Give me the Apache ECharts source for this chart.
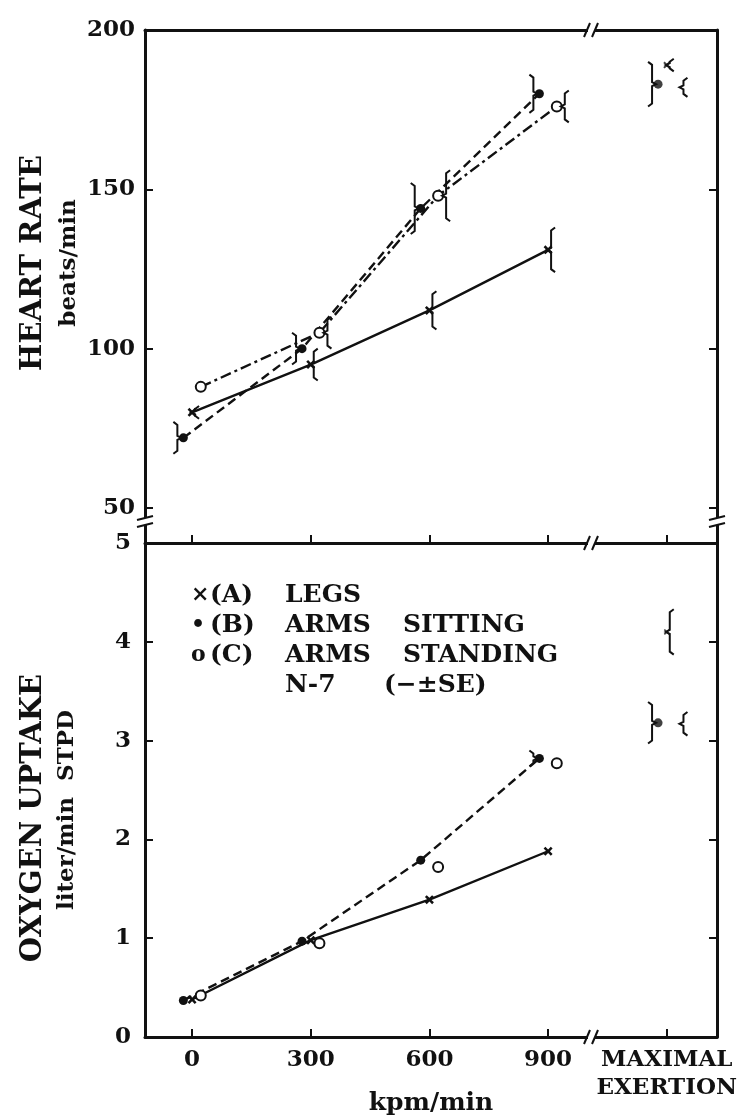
<!DOCTYPE html>
<html>
<head>
<meta charset="utf-8">
<script src="https://cdn.jsdelivr.net/npm/echarts@6.0.0/dist/echarts.min.js"></script>
<style>
  html, body { margin: 0; padding: 0; background: #fff; }
  #chart { width: 750px; height: 1118px; }
</style>
</head>
<body>
<div id="chart"></div>
<script>
// load categories (last one is the maximal exertion column)
var loadLabels = ['0', '300', '600', '900', 'MAXIMAL\nEXERTION'];
var loadValues = [0, 300, 600, 900, 1200];

// heart rate, beats/min
var hrLegs = [80, 95, 112, 131, 189];
var hrSit = [72, 100, 144, 180, 183];
var hrStand = [88, 105, 148, 176, 182];
var hrLegsSE = [2, 5, 6, 7, 2];
var hrSitSE = [5, 5, 8, 6, 7];
var hrStandSE = [0, 5, 8, 5, 3];

// oxygen uptake, liter/min STPD
var voLegs = [0.38, 0.98, 1.39, 1.88, 4.10];
var voSit = [0.37, 0.97, 1.79, 2.82, 3.18];
var voStand = [0.42, 0.95, 1.72, 2.77, 3.17];
var voLegsSE = [0, 0, 0, 0, 0.23];
var voSitSE = [0, 0, 0, 0.08, 0.21];
var voStandSE = [0, 0, 0, 0, 0.12];

var hrTicks = [50, 100, 150, 200];
var voTicks = [0, 1, 2, 3, 4, 5];

// small horizontal shift so the three groups don't sit on top of each other
var SHIFT = { legs: 0, sit: -22, stand: 22 };
var INK = '#111';
var FONT = '"DejaVu Serif", "Liberation Serif", serif';

function linePts(vals, shift) {
  return vals.slice(0, 4).map(function (v, i) { return [loadValues[i] + shift, v]; });
}
function maxPt(vals, shift) {
  return [[loadValues[4] + shift, vals[4]]];
}
function errPts(vals, ses, shift) {
  var out = [];
  vals.forEach(function (v, i) {
    if (ses[i] > 0) out.push([loadValues[i] + shift, v, ses[i]]);
  });
  return out;
}

var crossSym = 'path://M2,0L5,3L8,0L10,2L7,5L10,8L8,10L5,7L2,10L0,8L3,5L0,2Z';

function bracket(side, off) {
  return function (params, api) {
    var x = api.value(0), v = api.value(1), se = api.value(2);
    var top = api.coord([x, v + se]);
    var bot = api.coord([x, v - se]);
    var mid = api.coord([x, v]);
    var bx = mid[0] + side * off, c = 4 * side;
    return {
      type: 'polyline',
      shape: { points: [[bx + c, top[1]], [bx, top[1] + 3], [bx, mid[1] - 2], [bx - c, mid[1]],
                        [bx, mid[1] + 2], [bx, bot[1] - 3], [bx + c, bot[1]]] },
      style: { stroke: INK, lineWidth: 2, fill: null }
    };
  };
}

function lineSeries(g, data, sym, size, lineType, showLine) {
  return {
    type: 'line', xAxisIndex: g === 0 ? 0 : 2, yAxisIndex: g === 0 ? 0 : 2,
    data: data, symbol: sym, symbolSize: size, showSymbol: true,
    lineStyle: { color: INK, width: 2.4, type: lineType, opacity: showLine ? 1 : 0 },
    itemStyle: { color: INK, borderColor: INK, borderWidth: sym === 'emptyCircle' ? 2.2 : 0 },
    z: 3
  };
}
function dotSeries(g, data, sym, size) {
  return {
    type: 'scatter', xAxisIndex: g === 0 ? 0 : 2, yAxisIndex: g === 0 ? 0 : 2,
    data: data, symbol: sym, symbolSize: size,
    itemStyle: { color: sym === 'emptyCircle' ? '#fff' : INK, borderColor: INK, borderWidth: sym === 'emptyCircle' ? 2.2 : 0 },
    z: 4
  };
}
function errSeries(g, data, side, off) {
  return {
    type: 'custom', xAxisIndex: g === 0 ? 0 : 2, yAxisIndex: g === 0 ? 0 : 2,
    data: data, renderItem: bracket(side, off), encode: { x: 0, y: 1 }, z: 5
  };
}

var axisLine = { show: true, onZero: false, lineStyle: { color: INK, width: 3 } };
var tickIn = function (vals) { return { show: true, inside: true, length: 8, lineStyle: { color: INK, width: 2 }, customValues: vals }; };
var labelFont = { color: INK, fontFamily: FONT, fontWeight: 'bold', fontSize: 23 };

var chart = echarts.init(document.getElementById('chart'), null, { renderer: 'canvas' });

// break marks on the axes
var breaks = [];
function yBreak(x, y) {
  breaks.push({ type: 'rect', shape: { x: x - 5, y: y - 3, width: 10, height: 7 }, style: { fill: '#fff' }, z: 100 });
  breaks.push({ type: 'line', shape: { x1: x - 8, y1: y - 1, x2: x + 8, y2: y - 5 }, style: { stroke: INK, lineWidth: 2 }, z: 101 });
  breaks.push({ type: 'line', shape: { x1: x - 8, y1: y + 6, x2: x + 8, y2: y + 2 }, style: { stroke: INK, lineWidth: 2 }, z: 101 });
}
function xBreak(x, y) {
  breaks.push({ type: 'rect', shape: { x: x - 3, y: y - 3, width: 7, height: 6 }, style: { fill: '#fff' }, z: 100 });
  breaks.push({ type: 'line', shape: { x1: x - 7, y1: y + 7, x2: x - 1, y2: y - 7 }, style: { stroke: INK, lineWidth: 2 }, z: 101 });
  breaks.push({ type: 'line', shape: { x1: x + 1, y1: y + 7, x2: x + 7, y2: y - 7 }, style: { stroke: INK, lineWidth: 2 }, z: 101 });
}
yBreak(145, 521);
yBreak(717, 521);
xBreak(591, 30);
xBreak(591, 543);
xBreak(591, 1037);

function vText(txt, x, y, size) {
  return {
    type: 'text', x: x, y: y, rotation: Math.PI / 2, z: 50,
    style: { text: txt, fill: INK, font: 'bold ' + size + 'px ' + FONT, textAlign: 'center', textVerticalAlign: 'middle' }
  };
}
function hText(txt, x, y, size) {
  return {
    type: 'text', x: x, y: y, z: 50,
    style: { text: txt, fill: INK, font: 'bold ' + size + 'px ' + FONT, textAlign: 'left', textVerticalAlign: 'middle' }
  };
}

var legendRows = [
  ['\u00d7', '(A)', 'LEGS', ''],
  ['\u2022', '(B)', 'ARMS', 'SITTING'],
  ['o', '(C)', 'ARMS', 'STANDING'],
  ['', '', 'N-7', '(\u2212\u00b1SE)']
];
var legendGraphics = [];
legendRows.forEach(function (r, i) {
  var y = 595 + i * 30;
  if (r[0]) legendGraphics.push(hText(r[0], 191, y, 22));
  if (r[1]) legendGraphics.push(hText(r[1], 210, y, 25));
  legendGraphics.push(hText(r[2], 285, y, 25));
  if (r[3]) legendGraphics.push(hText(r[3], i === 3 ? 384 : 403, y, 25));
});

chart.setOption({
  animation: false,
  backgroundColor: '#fff',
  grid: [
    { left: 145, right: 33, top: 30, height: 513, outerBoundsMode: 'none', containLabel: false },
    { left: 145, right: 33, top: 543, height: 494, outerBoundsMode: 'none', containLabel: false }
  ],
  xAxis: [
    { gridIndex: 0, type: 'value', min: -119, max: 1327, position: 'bottom',
      axisLine: axisLine, axisTick: tickIn(loadValues), axisLabel: { show: false }, splitLine: { show: false } },
    { gridIndex: 0, type: 'value', min: -119, max: 1327, position: 'top',
      axisLine: axisLine, axisTick: { show: false }, axisLabel: { show: false }, splitLine: { show: false } },
    { gridIndex: 1, type: 'value', min: -119, max: 1327, position: 'bottom',
      axisLine: axisLine, axisTick: tickIn(loadValues),
      axisLabel: Object.assign({}, labelFont, {
        customValues: loadValues, margin: 9, lineHeight: 28,
        formatter: function (v) { return loadLabels[loadValues.indexOf(v)]; }
      }),
      splitLine: { show: false },
      name: 'kpm/min', nameLocation: 'middle', nameGap: 54, nameMoveOverlap: false,
      nameTextStyle: { color: INK, fontFamily: FONT, fontWeight: 'bold', fontSize: 25 } }
  ],
  yAxis: [
    { gridIndex: 0, type: 'value', min: 39, max: 200, position: 'left',
      axisLine: axisLine, axisTick: tickIn(hrTicks),
      axisLabel: Object.assign({}, labelFont, { customValues: hrTicks, margin: 10 }), splitLine: { show: false } },
    { gridIndex: 0, type: 'value', min: 39, max: 200, position: 'right',
      axisLine: axisLine, axisTick: tickIn([50, 100, 150]), axisLabel: { show: false }, splitLine: { show: false } },
    { gridIndex: 1, type: 'value', min: 0, max: 5, position: 'left',
      axisLine: axisLine, axisTick: tickIn(voTicks),
      axisLabel: Object.assign({}, labelFont, { customValues: voTicks, margin: 14 }), splitLine: { show: false } },
    { gridIndex: 1, type: 'value', min: 0, max: 5, position: 'right',
      axisLine: axisLine, axisTick: tickIn([1, 2, 3, 4]), axisLabel: { show: false }, splitLine: { show: false } }
  ],
  graphic: [
    vText('HEART RATE', 33, 263, 29),
    vText('beats/min', 69, 263, 23),
    vText('OXYGEN UPTAKE', 33, 818, 29),
    vText('liter/min  STPD', 67, 810, 23)
  ].concat(legendGraphics, breaks),
  series: [
    // heart rate
    lineSeries(0, linePts(hrLegs, SHIFT.legs), crossSym, 9, 'solid', true),
    lineSeries(0, linePts(hrSit, SHIFT.sit), 'circle', 9, [9, 5], true),
    lineSeries(0, linePts(hrStand, SHIFT.stand), 'emptyCircle', 10, [11, 4, 3, 4], true),
    dotSeries(0, maxPt(hrLegs, SHIFT.legs), crossSym, 7),
    dotSeries(0, maxPt(hrSit, SHIFT.sit), 'circle', 9),
    dotSeries(0, maxPt(hrStand, SHIFT.stand), 'emptyCircle', 10),
    errSeries(0, errPts(hrLegs, hrLegsSE, SHIFT.legs), 1, 3),
    errSeries(0, errPts(hrSit, hrSitSE, SHIFT.sit), -1, 6),
    errSeries(0, errPts(hrStand, hrStandSE, SHIFT.stand), 1, 8),
    // oxygen uptake
    lineSeries(1, linePts(voLegs, SHIFT.legs), crossSym, 9, 'solid', true),
    lineSeries(1, linePts(voSit, SHIFT.sit), 'circle', 9, [9, 5], true),
    lineSeries(1, linePts(voStand, SHIFT.stand), 'emptyCircle', 10, [9, 5], false),
    dotSeries(1, maxPt(voLegs, SHIFT.legs), crossSym, 6),
    dotSeries(1, maxPt(voSit, SHIFT.sit), 'circle', 9),
    dotSeries(1, maxPt(voStand, SHIFT.stand), 'emptyCircle', 10),
    errSeries(1, errPts(voLegs, voLegsSE, SHIFT.legs), 1, 3),
    errSeries(1, errPts(voSit, voSitSE, SHIFT.sit), -1, 6),
    errSeries(1, errPts(voStand, voStandSE, SHIFT.stand), 1, 8)
  ]
});
</script>
</body>
</html>
